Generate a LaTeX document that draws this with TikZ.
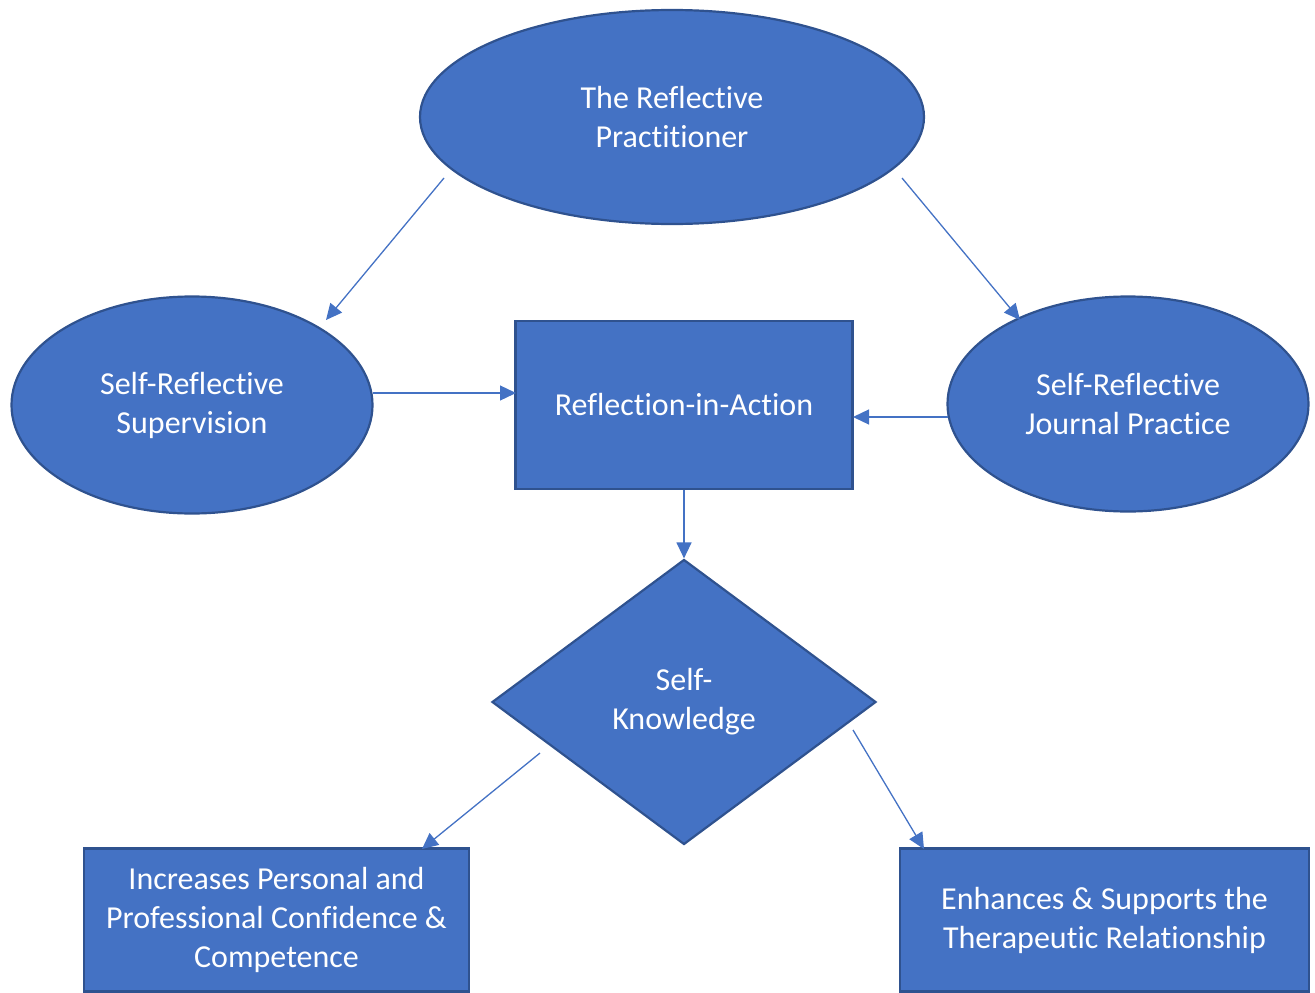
\documentclass[tikz,border=0pt]{standalone}
\usepackage{fontspec}
\setmainfont{Carlito}[Ligatures={NoCommon}]
\usetikzlibrary{shapes.geometric,arrows.meta}
\definecolor{fillblue}{HTML}{4472C4}
\definecolor{edgeblue}{HTML}{2F528F}
\tikzset{
  shapebox/.style={fill=fillblue,draw=edgeblue,line width=2.2pt,text=white,align=center,font=\fontsize{32}{39}\selectfont,inner sep=0pt},
  oval/.style={shapebox,ellipse},
  rectbox/.style={shapebox,rectangle},
  diamondbox/.style={shapebox,diamond},
  conn/.style={draw=fillblue,line width=1.3pt,-{Triangle[length=16pt,width=15pt]}},
}
\begin{document}
\begin{tikzpicture}[x=1pt,y=-1pt]
\useasboundingbox (0,0) rectangle (1315,993);
\node[oval,minimum width=504pt,minimum height=214pt] (top) at (672,117) {The Reflective\\Practitioner};
\node[oval,minimum width=361pt,minimum height=217pt] (left) at (192,405) {Self-Reflective\\Supervision};
\node[oval,minimum width=361pt,minimum height=215pt] (right) at (1128,404) {Self-Reflective\\Journal Practice};
\node[rectbox,minimum width=337pt,minimum height=168pt] (ria) at (684,405) {Reflection-in-Action};
\node[diamondbox,minimum width=384pt,minimum height=285pt,aspect=1.35] (sk) at (684,702) {Self-\\Knowledge};
\node[rectbox,minimum width=385pt,minimum height=143pt] (conf) at (276.5,920) {Increases Personal and\\Professional Confidence \&\\Competence};
\node[rectbox,minimum width=409pt,minimum height=143pt] (ther) at (1104.5,920) {Enhances \& Supports the\\Therapeutic Relationship};
\coordinate (a1s) at (444,178);
\coordinate (a1e) at (326,320);
\coordinate (a2s) at (902,178);
\coordinate (a2e) at (1020,320);
\coordinate (a3s) at (373,393);
\coordinate (a3e) at (516,393);
\coordinate (a4s) at (948,417);
\coordinate (a4e) at (853,417);
\coordinate (a6s) at (540,753);
\coordinate (a6e) at (422,849);
\coordinate (a7s) at (853,730);
\coordinate (a7e) at (924,849);
\draw[conn] (a1s) -- (a1e);
\draw[conn] (a2s) -- (a2e);
\draw[conn] (a3s) -- (a3e);
\draw[conn] (a4s) -- (a4e);
\draw[conn] (ria.south) -- (sk.north);
\draw[conn] (a6s) -- (a6e);
\draw[conn] (a7s) -- (a7e);
\end{tikzpicture}
\end{document}
